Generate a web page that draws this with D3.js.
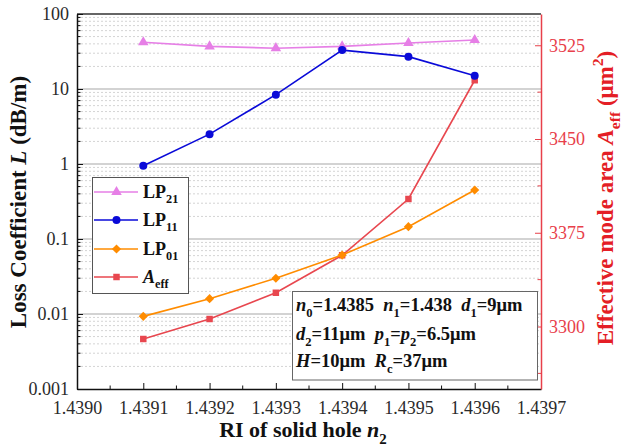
<!DOCTYPE html>
<html>
<head>
<meta charset="utf-8">
<script src="https://cdn.jsdelivr.net/npm/d3@7/dist/d3.min.js"></script>
<style>
  html, body { margin: 0; padding: 0; background: #fff; }
  svg { display: block; }
  svg text { font-family: "Liberation Serif", "Times New Roman", serif; }
</style>
</head>
<body>
<svg id="chart" width="624" height="448"></svg>
<script>
// Refractive index of the solid hole (x values)
const riValues = [1.4391, 1.4392, 1.4393, 1.4394, 1.4395, 1.4396];
// Loss coefficients (dB/m) per mode
const lossLP21 = [42, 37, 35, 37, 41, 45];
const lossLP11 = [0.95, 2.5, 8.4, 33, 27, 15];
const lossLP01 = [0.0093, 0.016, 0.030, 0.061, 0.146, 0.45];
// Effective mode area (μm²)
const areaEff = [3290, 3306, 3327, 3357, 3402, 3497];

// Tick values
const xTicks = [1.4390, 1.4391, 1.4392, 1.4393, 1.4394, 1.4395, 1.4396, 1.4397];
const leftTicks = [0.001, 0.01, 0.1, 1, 10, 100];
const leftTickLabels = ["0.001", "0.01", "0.1", "1", "10", "100"];
const rightTicks = [3300, 3375, 3450, 3525];

const svg = d3.select("#chart");
const m = { left: 77, right: 541, top: 14, bottom: 389 };

const x = d3.scaleLinear().domain([1.4390, 1.4397]).range([m.left, m.right]);
const yL = d3.scaleLog().domain([0.001, 100]).range([m.bottom, m.top]);
const yR = d3.scaleLinear().domain([3250, 3550]).range([m.bottom, m.top]);

const RED_AXIS = "#e8404a";
const RED_TITLE = "#e41e26";
const colors = { lp21: "#e67fe6", lp11: "#0a0ad8", lp01: "#ff8c00", aeff: "#e8474f" };

// Rich text helper: parts = [[text, flags]] where flags may contain i (italic), s (sub), p (sup)
function rich(sel, parts, subScale = 0.68) {
  let shift = 0;
  const fs = parseFloat(sel.attr("font-size"));
  parts.forEach(([t, f = ""]) => {
    const ts = sel.append("tspan").text(t);
    let target = 0;
    if (f.includes("s")) target = 0.3;
    if (f.includes("p")) target = -0.45;
    if (f.includes("s") || f.includes("p")) ts.attr("font-size", (subScale * 100) + "%");
    if (f.includes("i")) ts.attr("font-style", "italic");
    const dyPx = (target - shift) * fs;
    if (dyPx !== 0) ts.attr("dy", dyPx.toFixed(2));
    shift = target;
  });
  return sel;
}

function styleTicks(g, color) {
  g.attr("font-family", null).attr("font-size", null);
  g.selectAll(".tick text")
    .style("font-family", "'Liberation Serif', 'Times New Roman', serif")
    .style("font-size", "18px")
    .attr("fill", color);
}

// Minor dotted gridlines (2..9 of each decade)
const minorVals = [];
for (let e = -3; e < 2; e++) for (let k = 2; k <= 9; k++) minorVals.push(k * Math.pow(10, e));
svg.append("g").selectAll("line").data(minorVals).join("line")
  .attr("x1", m.left).attr("x2", m.right)
  .attr("y1", d => yL(d)).attr("y2", d => yL(d))
  .attr("stroke", "#d4d4d4").attr("stroke-width", 1).attr("stroke-dasharray", "2,2");

// Major gridlines at decades
svg.append("g").selectAll("line").data([0.01, 0.1, 1, 10]).join("line")
  .attr("x1", m.left).attr("x2", m.right)
  .attr("y1", d => yL(d)).attr("y2", d => yL(d))
  .attr("stroke", "#c4c4c4").attr("stroke-width", 1.5);

// Frame: top border
svg.append("line").attr("x1", m.left).attr("x2", m.right).attr("y1", m.top).attr("y2", m.top)
  .attr("stroke", "#333").attr("stroke-width", 1.5);

// Bottom axis
const xAxis = d3.axisBottom(x).tickValues(xTicks).tickFormat(d3.format(".4f")).tickSizeInner(-6).tickSizeOuter(0).tickPadding(12);
const gx = svg.append("g").attr("transform", `translate(0,${m.bottom})`).call(xAxis);
gx.select(".domain").attr("stroke", "#111").attr("stroke-width", 1.5);
gx.selectAll(".tick line").attr("stroke", "#111");
styleTicks(gx, "#2a2a2a");
// x minor ticks
svg.append("g").selectAll("line").data(xTicks.slice(0, -1).map(v => v + 0.00005)).join("line")
  .attr("x1", d => x(d)).attr("x2", d => x(d)).attr("y1", m.bottom).attr("y2", m.bottom - 3.5)
  .attr("stroke", "#111");

// Left axis (log)
const yAxisL = d3.axisLeft(yL).tickValues(leftTicks).tickFormat((d, i) => leftTickLabels[i]).tickSizeInner(-6).tickSizeOuter(0).tickPadding(8);
const gyl = svg.append("g").attr("transform", `translate(${m.left},0)`).call(yAxisL);
gyl.select(".domain").attr("stroke", "#111").attr("stroke-width", 1.5);
gyl.selectAll(".tick line").attr("stroke", "#111");
styleTicks(gyl, "#2a2a2a");
svg.append("g").selectAll("line").data(minorVals).join("line")
  .attr("x1", m.left).attr("x2", m.left + 3.5)
  .attr("y1", d => yL(d)).attr("y2", d => yL(d)).attr("stroke", "#111");

// Right axis (linear, red)
const yAxisR = d3.axisRight(yR).tickValues(rightTicks).tickFormat(d3.format("d")).tickSizeInner(-6).tickSizeOuter(0).tickPadding(8);
const gyr = svg.append("g").attr("transform", `translate(${m.right},0)`).call(yAxisR);
gyr.select(".domain").attr("stroke", RED_AXIS).attr("stroke-width", 1.5);
gyr.selectAll(".tick line").attr("stroke", RED_AXIS);
styleTicks(gyr, RED_AXIS);
svg.append("g").selectAll("line").data([3262.5, 3337.5, 3412.5, 3487.5]).join("line")
  .attr("x1", m.right).attr("x2", m.right - 3.5)
  .attr("y1", d => yR(d)).attr("y2", d => yR(d)).attr("stroke", RED_AXIS);

// Series
const series = [
  { key: "lp21", vals: lossLP21, y: yL, sym: d3.symbolTriangle, size: 48, rot: 0 },
  { key: "lp11", vals: lossLP11, y: yL, sym: d3.symbolCircle, size: 50, rot: 0 },
  { key: "lp01", vals: lossLP01, y: yL, sym: d3.symbolSquare, size: 42, rot: 45 },
  { key: "aeff", vals: areaEff, y: yR, sym: d3.symbolSquare, size: 42, rot: 0 }
];

const plot = svg.append("g");
// Red area curve first, then the loss curves on top (LP21 under LP11)
[series[3], series[2], series[0], series[1]].forEach(s => {
  const pts = riValues.map((r, i) => [x(r), s.y(s.vals[i])]);
  plot.append("path").attr("d", d3.line()(pts))
    .attr("fill", "none").attr("stroke", colors[s.key]).attr("stroke-width", 1.6);
  plot.append("g").selectAll("path").data(pts).join("path")
    .attr("d", d3.symbol().type(s.sym).size(s.size))
    .attr("transform", d => `translate(${d[0]},${d[1]}) rotate(${s.rot})`)
    .attr("fill", colors[s.key]);
});

// Legend
const lg = svg.append("g");
lg.append("rect").attr("x", 92.5).attr("y", 177.5).attr("width", 96).attr("height", 116)
  .attr("fill", "#fff").attr("stroke", "#555").attr("stroke-width", 1);
const legendItems = [
  { s: series[0], parts: [["LP"], ["21", "s"]] },
  { s: series[1], parts: [["LP"], ["11", "s"]] },
  { s: series[2], parts: [["LP"], ["01", "s"]] },
  { s: series[3], parts: [["A", "i"], ["eff", "s"]] }
];
const rowY = [192, 220, 249, 277];
legendItems.forEach((it, i) => {
  const yy = rowY[i];
  lg.append("line").attr("x1", 94).attr("x2", 138).attr("y1", yy).attr("y2", yy)
    .attr("stroke", colors[it.s.key]).attr("stroke-width", 1.6);
  lg.append("path").attr("d", d3.symbol().type(it.s.sym).size(it.s.size))
    .attr("transform", `translate(116.5,${yy}) rotate(${it.s.rot})`).attr("fill", colors[it.s.key]);
  const t = lg.append("text").attr("x", 143).attr("y", yy + 6).attr("font-size", 18)
    .attr("font-weight", "bold").attr("fill", "#111");
  rich(t, it.parts);
});

// Parameter box
const pb = svg.append("g");
pb.append("rect").attr("x", 292.5).attr("y", 291.5).attr("width", 245).attr("height", 88.5)
  .attr("fill", "#fff").attr("stroke", "#666").attr("stroke-width", 1);
const paramLines = [
  [["n", "i"], ["0", "s"], ["=1.4385  "], ["n", "i"], ["1", "s"], ["=1.438  "], ["d", "i"], ["1", "s"], ["=9μm"]],
  [["d", "i"], ["2", "s"], ["=11μm  "], ["p", "i"], ["1", "s"], ["="], ["p", "i"], ["2", "s"], ["=6.5μm"]],
  [["H", "i"], ["=10μm  "], ["R", "i"], ["c", "s"], ["=37μm"]]
];
const paramY = [311, 340, 367];
paramLines.forEach((parts, i) => {
  const t = pb.append("text").attr("x", 296).attr("y", paramY[i]).attr("font-size", 18.5)
    .attr("font-weight", "bold").attr("fill", "#111")
    .style("white-space", "pre");
  rich(t, parts);
});

// Axis titles
const xt = svg.append("text").attr("x", 303).attr("y", 437).attr("text-anchor", "middle")
  .attr("font-size", 22).attr("font-weight", "bold").attr("fill", "#111");
rich(xt, [["RI of solid hole "], ["n", "i"], ["2", "s"]]);

const ylt = svg.append("text").attr("transform", "translate(26,202) rotate(-90)").attr("text-anchor", "middle")
  .attr("font-size", 23).attr("font-weight", "bold").attr("fill", "#111");
rich(ylt, [["Loss Coefficient "], ["L", "i"], [" (dB/m)"]]);

const yrt = svg.append("text").attr("transform", "translate(613,198) rotate(-90)").attr("text-anchor", "middle")
  .attr("font-size", 23).attr("font-weight", "bold").attr("fill", RED_TITLE);
rich(yrt, [["Effective mode area "], ["A", "i"], ["eff", "s"], [" (μm"], ["2", "p"], [")"]]);
</script>
</body>
</html>
